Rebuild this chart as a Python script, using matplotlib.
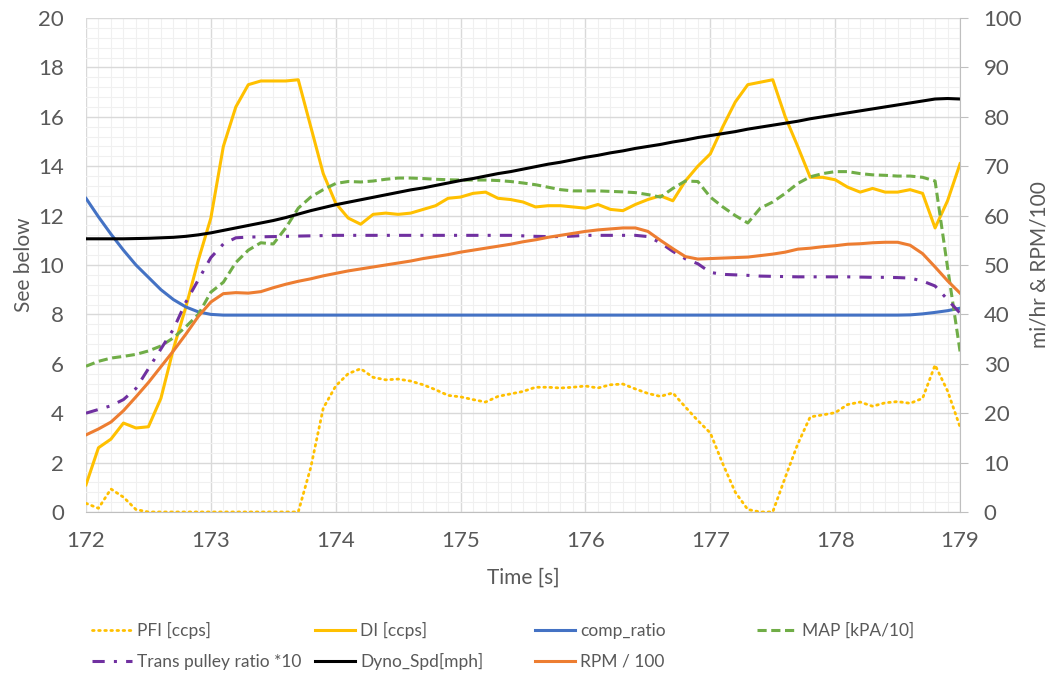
import matplotlib.pyplot as plt
import numpy as np
from matplotlib.ticker import MultipleLocator

plt.rcParams['font.family'] = ['Lato', 'DejaVu Sans']

# time axis, 0.1 s steps from 172.0 to 179.0
time_s = [round(172 + i * 0.1, 1) for i in range(71)]

pfi = [0.35, 0.15, 0.93, 0.6, 0.1, 0, 0, 0, 0, 0,
       0, 0, 0, 0, 0, 0, 0, 0, 1.8, 4.2,
       5.1, 5.6, 5.8, 5.45, 5.35, 5.38, 5.3, 5.15, 4.95, 4.72,
       4.66, 4.55, 4.45, 4.68, 4.78, 4.88, 5.05, 5.05, 5.02, 5.05,
       5.1, 5.02, 5.15, 5.18, 4.98, 4.8, 4.68, 4.82, 4.25, 3.7,
       3.2, 1.95, 0.8, 0.1, 0, 0, 1.4, 2.75, 3.85, 3.93,
       4.02, 4.35, 4.45, 4.28, 4.42, 4.47, 4.4, 4.6, 5.95, 4.9,
       3.44]

di = [1.1, 2.6, 2.95, 3.6, 3.4, 3.45, 4.6, 6.6, 8.3, 10.2,
      11.9, 14.8, 16.4, 17.3, 17.45, 17.45, 17.45, 17.5, 15.6, 13.7,
      12.5, 11.9, 11.65, 12.05, 12.1, 12.05, 12.1, 12.25, 12.4, 12.7,
      12.75, 12.9, 12.95, 12.7, 12.65, 12.55, 12.35, 12.4, 12.4, 12.35,
      12.3, 12.45, 12.25, 12.2, 12.45, 12.65, 12.8, 12.6, 13.4, 14.0,
      14.5, 15.6, 16.6, 17.3, 17.4, 17.5, 16.0, 14.8, 13.55, 13.55,
      13.45, 13.15, 12.95, 13.1, 12.95, 12.95, 13.05, 12.9, 11.5, 12.6,
      14.1]

comp_ratio = [12.7, 11.95, 11.25, 10.6, 10.0, 9.5, 9.0, 8.6, 8.3, 8.1,
              8.0, 7.97, 7.97, 7.97, 7.97, 7.97, 7.97, 7.97, 7.97, 7.97,
              7.97, 7.97, 7.97, 7.97, 7.97, 7.97, 7.97, 7.97, 7.97, 7.97,
              7.97, 7.97, 7.97, 7.97, 7.97, 7.97, 7.97, 7.97, 7.97, 7.97,
              7.97, 7.97, 7.97, 7.97, 7.97, 7.97, 7.97, 7.97, 7.97, 7.97,
              7.97, 7.97, 7.97, 7.97, 7.97, 7.97, 7.97, 7.97, 7.97, 7.97,
              7.97, 7.97, 7.97, 7.97, 7.97, 7.97, 7.98, 8.02, 8.08, 8.15,
              8.25]

map_kpa = [5.9, 6.1, 6.23, 6.3, 6.38, 6.52, 6.72, 7.05, 7.5, 8.0,
           8.9, 9.3, 10.1, 10.6, 10.9, 10.85, 11.5, 12.3, 12.75, 13.05,
           13.3, 13.38, 13.36, 13.4, 13.47, 13.52, 13.52, 13.5, 13.47, 13.45,
           13.44, 13.44, 13.44, 13.42, 13.38, 13.32, 13.25, 13.15, 13.05, 13.0,
           13.0, 13.0, 12.98, 12.96, 12.93, 12.85, 12.75, 13.1, 13.4, 13.38,
           12.75, 12.35, 12.0, 11.7, 12.3, 12.55, 12.9, 13.3, 13.57, 13.7,
           13.78, 13.78, 13.7, 13.65, 13.63, 13.6, 13.6, 13.55, 13.4, 9.9,
           6.5]

trans_ratio = [4.0, 4.15, 4.3, 4.55, 5.0, 5.8, 6.6, 7.4, 8.5, 9.4,
               10.3, 10.85, 11.1, 11.13, 11.14, 11.15, 11.16, 11.17, 11.18, 11.19,
               11.2, 11.2, 11.2, 11.2, 11.2, 11.2, 11.2, 11.2, 11.2, 11.2,
               11.2, 11.2, 11.2, 11.2, 11.2, 11.18, 11.16, 11.15, 11.15, 11.17,
               11.2, 11.2, 11.2, 11.2, 11.2, 11.15, 10.9, 10.55, 10.25, 10.05,
               9.7, 9.62, 9.6, 9.58, 9.55, 9.54, 9.53, 9.52, 9.52, 9.52,
               9.52, 9.52, 9.51, 9.5, 9.5, 9.49, 9.47, 9.35, 9.15, 8.6,
               8.05]

dyno_mph = [55.3, 55.3, 55.3, 55.3, 55.35, 55.4, 55.5, 55.6, 55.8, 56.1,
            56.5, 57.0, 57.5, 58.0, 58.5, 59.0, 59.6, 60.3, 61.0, 61.6,
            62.2, 62.7, 63.2, 63.7, 64.2, 64.7, 65.2, 65.6, 66.1, 66.6,
            67.1, 67.5, 68.0, 68.5, 68.9, 69.4, 69.9, 70.4, 70.8, 71.3,
            71.8, 72.2, 72.7, 73.1, 73.6, 74.0, 74.4, 74.9, 75.3, 75.8,
            76.2, 76.6, 77.0, 77.5, 77.9, 78.3, 78.7, 79.1, 79.6, 80.0,
            80.4, 80.8, 81.2, 81.6, 82.0, 82.4, 82.8, 83.2, 83.6, 83.7,
            83.6]

rpm_100 = [15.6, 16.8, 18.2, 20.5, 23.3, 26.2, 29.4, 32.6, 36.0, 39.6,
           42.5, 44.2, 44.4, 44.3, 44.6, 45.4, 46.1, 46.7, 47.2, 47.8,
           48.3, 48.8, 49.2, 49.6, 50.0, 50.4, 50.8, 51.3, 51.7, 52.1,
           52.6, 53.0, 53.4, 53.8, 54.2, 54.7, 55.1, 55.6, 56.0, 56.4,
           56.8, 57.1, 57.3, 57.5, 57.5, 56.8, 55.0, 53.3, 51.7, 51.2,
           51.3, 51.4, 51.5, 51.6, 51.9, 52.2, 52.6, 53.2, 53.4, 53.7,
           53.9, 54.2, 54.3, 54.5, 54.6, 54.6, 54.0, 52.3, 49.6, 46.8,
           44.3]

grey = '#595959'

fig = plt.figure(figsize=(10.55, 6.74), dpi=100)
ax = fig.add_axes([0.0815, 0.2404, 0.8285, 0.7329])
ax2 = ax.twinx()

lw = 2.2
h_pfi, = ax.plot(time_s, pfi, color='#FFC000', lw=2.0, linestyle=(0, (0.6, 1.6)),
                 dash_capstyle='round', label='PFI [ccps]')
h_di, = ax.plot(time_s, di, color='#FFC000', lw=lw, label='DI [ccps]')
h_cr, = ax.plot(time_s, comp_ratio, color='#4472C4', lw=lw, label='comp_ratio')
h_map, = ax.plot(time_s, map_kpa, color='#70AD47', lw=lw, linestyle=(0, (3, 1.5)),
                 label='MAP [kPA/10]')
h_tr, = ax.plot(time_s, trans_ratio, color='#7030A0', lw=lw,
                linestyle=(0, (4, 3, 1, 3)), label='Trans pulley ratio *10')
h_dy, = ax2.plot(time_s, dyno_mph, color='black', lw=lw, label='Dyno_Spd[mph]')
h_rpm, = ax2.plot(time_s, rpm_100, color='#ED7D31', lw=lw, label='RPM / 100')

ax.set_xlim(172, 179)
ax.set_ylim(0, 20)
ax2.set_ylim(0, 100)
ax.xaxis.set_major_locator(MultipleLocator(1))
ax.xaxis.set_minor_locator(MultipleLocator(0.1))
ax.yaxis.set_major_locator(MultipleLocator(2))
ax.yaxis.set_minor_locator(MultipleLocator(0.4))
ax2.yaxis.set_major_locator(MultipleLocator(10))

ax.grid(which='major', color='#D9D9D9', lw=1.0)
ax.grid(which='minor', color='#F0F0F0', lw=0.8)
ax.set_axisbelow(True)

for a in (ax, ax2):
    for s in a.spines.values():
        s.set_visible(False)
ax.spines['bottom'].set_visible(True)
ax.spines['bottom'].set_color('#BFBFBF')
ax2.spines['right'].set_visible(True)
ax2.spines['right'].set_color('#BFBFBF')

ax.tick_params(axis='both', which='both', length=0, labelsize=16, labelcolor=grey)
ax.tick_params(axis='x', pad=14)
ax.tick_params(axis='y', pad=16)
ax2.tick_params(axis='y', length=6, color='#BFBFBF', labelsize=16, labelcolor=grey, pad=11)

ax.set_xlabel('Time [s]', fontsize=15, color=grey, va='center')
ax.set_ylabel('See below', fontsize=15, color=grey, va='center')
ax2.set_ylabel('mi/hr & RPM/100', fontsize=15, color=grey, va='center')
ax.xaxis.set_label_coords(0.5, -0.134)
ax.yaxis.set_label_coords(-0.071, 0.5)
ax2.yaxis.set_label_coords(1.091, 0.5)

# legend entries laid out like the Excel legend
row1, row2 = 0.064, 0.018
entries = [(h_pfi, 0.0872, row1), (h_di, 0.2986, row1), (h_cr, 0.5071, row1),
           (h_map, 0.7175, row1), (h_tr, 0.0872, row2), (h_dy, 0.2986, row2),
           (h_rpm, 0.5071, row2)]
for h, x, y in entries:
    fig.legend(handles=[h], loc='center left', bbox_to_anchor=(x, y), frameon=False,
               fontsize=12.5, labelcolor=grey, handlelength=2.3, handletextpad=0.3,
               borderpad=0, borderaxespad=0)

fig.savefig('out.png', dpi=100)
